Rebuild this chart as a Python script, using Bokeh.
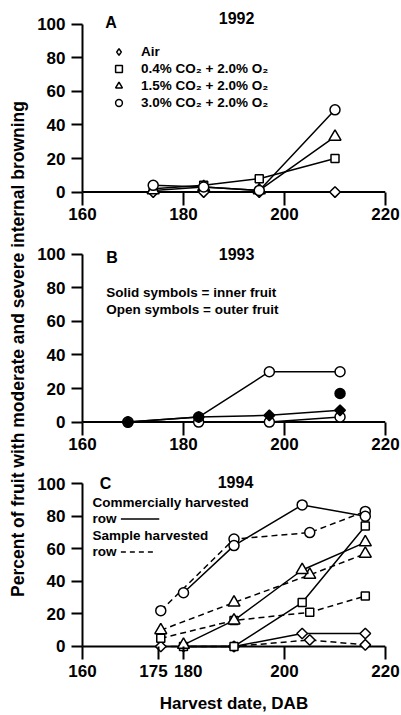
import numpy as np
from bokeh.plotting import figure
from bokeh.models import Range1d, FixedTicker, Label, Legend, LegendItem, Span
from bokeh.layouts import column, row
from bokeh.embed import file_html
from bokeh.resources import INLINE

FONT = "Liberation Sans"

# ---------------- data ----------------
# Panel A (1992)
a_dates = [174, 184, 195, 210]
a_air = [0, 0, 0, 0]
a_co2_04 = [2, 4, 8, 20]
a_co2_15 = [1, 3, 1, 33]
a_co2_30 = [4, 3, 1, 49]
a_labels = ["Air", "0.4% CO\u2082 + 2.0% O\u2082", "1.5% CO\u2082 + 2.0% O\u2082", "3.0% CO\u2082 + 2.0% O\u2082"]

# Panel B (1993)
b_dates = [169, 183, 197, 211]
b_inner_diamond = [0, 3, 4, 7]
b_outer_circle_high = [0, 3, 30, 30]
b_outer_circle_low = [0, 0, 0, 3]
b_inner_circle_dates = [211]
b_inner_circle = [17]

# Panel C (1994)
c_comm_dates = [180, 190, 203.5, 216]
c_comm_circle = [33, 62, 87, 80]
c_comm_triangle = [1, 16, 47, 64]
c_comm_square = [0, 0, 27, 74]
c_comm_diamond = [0, 0, 8, 8]
c_samp_dates = [175.5, 190, 205, 216]
c_samp_circle = [22, 66, 70, 83]
c_samp_triangle = [10, 27, 44, 57]
c_samp_square = [5, 16, 21, 31]
c_samp_diamond = [0, 0, 4, 1]

y_ticks = [0, 20, 40, 60, 80, 100]
x_ticks_ab = [160, 180, 200, 220]
x_ticks_c = [160, 175, 180, 200, 220]

# ---------------- styling ----------------
MARK = {
    "diamond": dict(marker="square", size=7.5, angle=np.pi / 4),
    "square": dict(marker="square", size=8, angle=0),
    "triangle": dict(marker="triangle", size=12, angle=0),
    "circle": dict(marker="circle", size=10, angle=0),
}
LEGEND_MARK = {"diamond": "diamond", "square": "square", "triangle": "triangle", "circle": "circle"}
DASH = "6 4"
Y0, Y1 = -8, 110
FRAME_H = 198


def base_panel(height, top, bottom, xticks):
    p = figure(width=367, height=height, x_range=Range1d(160, 220), y_range=Range1d(Y0, Y1),
               output_backend="svg", toolbar_location=None,
               min_border_left=47, min_border_right=16, min_border_top=top,
               min_border_bottom=bottom, outline_line_color=None,
               background_fill_color="white", border_fill_color="white")
    p.grid.visible = False
    xa = p.xaxis[0]
    ya = p.yaxis[0]
    ya.bounds = (0, 100)
    xa.ticker = FixedTicker(ticks=xticks)
    ya.ticker = FixedTicker(ticks=y_ticks)
    for ax in (xa, ya):
        ax.axis_line_width = 2
        ax.axis_line_color = "black"
        ax.major_tick_line_width = 2
        ax.major_tick_line_color = "black"
        ax.minor_tick_line_color = None
        ax.major_label_text_font = FONT
        ax.major_label_text_font_style = "bold"
        ax.major_label_text_font_size = "17px"
        ax.major_label_text_color = "black"
    # the x axis line itself sits at y = 0 (drawn as a span); ticks reach up to it
    xa.axis_line_color = None
    xa.major_tick_in = 13
    xa.major_tick_out = 0
    xa.major_label_standoff = 2
    ya.major_tick_in = 0
    ya.major_tick_out = 11
    ya.major_label_standoff = 6
    p.add_layout(Span(location=0, dimension="width", line_color="black", line_width=2,
                      level="underlay"))
    return p


def draw(p, series):
    """series: list of (x, y, kind, filled, dash). Lines first, then markers."""
    for x, y, kind, filled, dash in series:
        if len(x) > 1:
            p.line(x, y, line_color="black", line_width=1.5, line_dash=dash)
    rends = []
    for x, y, kind, filled, dash in series:
        m = MARK[kind]
        r = p.scatter(x, y, marker=m["marker"], size=m["size"], angle=m["angle"],
                      line_color="black", line_width=1.5,
                      fill_color="black" if filled else "white")
        rends.append(r)
    return rends


def add_text(p, x, y, text, size="16px", align="left"):
    p.add_layout(Label(x=x, y=y, text=text, text_font=FONT, text_font_style="bold",
                       text_font_size=size, text_align=align, text_baseline="middle",
                       text_color="black"))


# ---------------- Panel A ----------------
pa = base_panel(237, 7, 32, x_ticks_ab)
a_kinds = ["diamond", "square", "triangle", "circle"]
draw(pa, [
    (a_dates, a_air, "diamond", False, "solid"),
    (a_dates, a_co2_04, "square", False, "solid"),
    (a_dates, a_co2_15, "triangle", False, "solid"),
    (a_dates, a_co2_30, "circle", False, "solid"),
])
# legend key renderers (a single NaN point, so nothing is drawn in the plot)
key_rends = [pa.scatter(x=[np.nan], y=[np.nan], marker=LEGEND_MARK[k], line_color="black",
                        line_width=1.5, fill_color="white") for k in a_kinds]
legend = Legend(items=[LegendItem(label=lab, renderers=[r]) for lab, r in zip(a_labels, key_rends)],
                location=(28, 94), padding=0, margin=0, spacing=0,
                glyph_width=17, glyph_height=17, label_height=17, label_standoff=14,
                border_line_alpha=0, background_fill_alpha=0,
                label_text_font=FONT, label_text_font_style="bold",
                label_text_font_size="13.5px", label_text_color="black")
pa.add_layout(legend)
add_text(pa, 164.5, 101, "A")
add_text(pa, 190.5, 103.5, "1992", align="center")

# ---------------- Panel B ----------------
pb = base_panel(230, 0, 32, x_ticks_ab)
draw(pb, [
    (b_dates, b_outer_circle_low, "circle", False, "solid"),
    (b_dates, b_outer_circle_high, "circle", False, "solid"),
    (b_dates, b_inner_diamond, "diamond", True, "solid"),
    (b_inner_circle_dates, b_inner_circle, "circle", True, "solid"),
])
add_text(pb, 164.7, 98, "B")
add_text(pb, 190.5, 100, "1993", align="center")
add_text(pb, 164.7, 77, "Solid symbols = inner fruit", size="13.5px")
add_text(pb, 164.7, 67, "Open symbols = outer fruit", size="13.5px")

# ---------------- Panel C ----------------
pc = base_panel(248, 0, 50, x_ticks_c)
xc = pc.xaxis[0]
xc.major_label_overrides = {175: "175\u00a0\u00a0", 180: "\u00a0\u00a0180"}
xc.axis_label = "Harvest date, DAB"
xc.axis_label_text_font = FONT
xc.axis_label_text_font_style = "bold"
xc.axis_label_text_font_size = "17px"
xc.axis_label_text_color = "black"
xc.axis_label_standoff = 10
draw(pc, [
    (c_samp_dates, c_samp_diamond, "diamond", False, DASH),
    (c_samp_dates, c_samp_square, "square", False, DASH),
    (c_samp_dates, c_samp_triangle, "triangle", False, DASH),
    (c_samp_dates, c_samp_circle, "circle", False, DASH),
    (c_comm_dates, c_comm_diamond, "diamond", False, "solid"),
    (c_comm_dates, c_comm_square, "square", False, "solid"),
    (c_comm_dates, c_comm_triangle, "triangle", False, "solid"),
    (c_comm_dates, c_comm_circle, "circle", False, "solid"),
])
add_text(pc, 163.4, 100, "C")
add_text(pc, 190.3, 101, "1994", align="center")
add_text(pc, 162, 88.5, "Commercially harvested", size="13.5px")
add_text(pc, 162, 78.4, "row", size="13.5px")
add_text(pc, 162, 68.3, "Sample harvested", size="13.5px")
add_text(pc, 162, 58.1, "row", size="13.5px")
# legend keys for the line styles
pc.segment(x0=[167.6], y0=[78.4], x1=[175.2], y1=[78.4], line_color="black", line_width=1.5)
pc.segment(x0=[167.6], y0=[58.1], x1=[174.0], y1=[58.1], line_color="black", line_width=1.5,
           line_dash="5 4")

# ---------------- shared y title ----------------
pl = figure(width=34, height=715, x_range=Range1d(0, 1), y_range=Range1d(0, 1),
            x_axis_type=None, y_axis_type=None, output_backend="svg",
            toolbar_location=None, min_border=0, outline_line_color=None,
            background_fill_color="white", border_fill_color="white")
pl.grid.visible = False
pl.add_layout(Label(x=17.5 / 34, y=(715 - 348.5) / 715,
                    text="Percent of fruit with moderate and severe internal browning",
                    angle=np.pi / 2, text_align="center", text_baseline="middle",
                    text_font=FONT, text_font_style="bold", text_font_size="17.5px",
                    text_color="black"))

layout = row(pl, column(pa, pb, pc))

open("out.html", "w").write(file_html(layout, INLINE))
